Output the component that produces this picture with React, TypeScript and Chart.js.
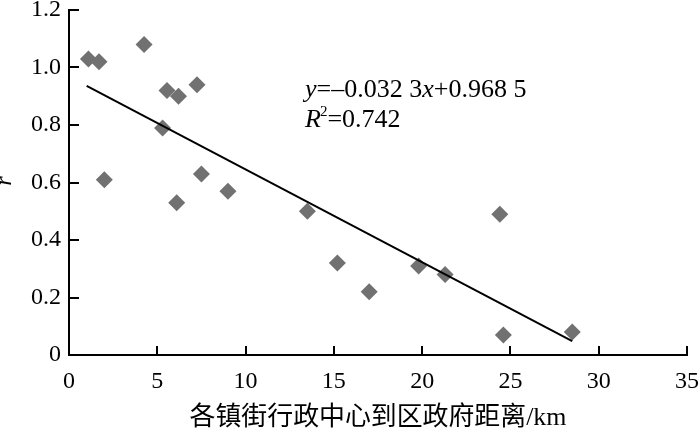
import React, { useEffect, useRef } from "react";
import { Chart, registerables } from "chart.js";

Chart.register(...registerables);

// Scatter data: distance (km) vs r
const distKm = [1.1, 1.7, 2.0, 4.25, 5.3, 5.55, 6.2, 6.1, 7.25, 7.5, 9.0, 13.5, 15.2, 17.0, 19.8, 21.3, 24.4, 24.6, 28.5];
const rValues = [1.03, 1.02, 0.61, 1.08, 0.79, 0.92, 0.9, 0.53, 0.94, 0.63, 0.57, 0.5, 0.32, 0.22, 0.31, 0.28, 0.49, 0.07, 0.08];

// Trend line end points (y = -0.0323x + 0.9685)
const trendX = [1.0, 28.5];
const trendY = [0.936, 0.048];

const xTicks = [0, 5, 10, 15, 20, 25, 30, 35];
const yTicks = [0, 0.2, 0.4, 0.6, 0.8, 1.0, 1.2];

const xTitle = "各镇街行政中心到区政府距离/km";
const yTitle = "r";
const eqParts: [string, boolean][] = [["y", true], ["=–0.032 3", false], ["x", true], ["+0.968 5", false]];
const r2Text = "=0.742";

const SERIF = "'Liberation Serif', 'Noto Sans CJK SC', serif";

const overlayPlugin = {
  id: "overlay",
  afterDraw(chart: any) {
    const ctx = chart.ctx as CanvasRenderingContext2D;
    const xs = chart.scales.x;
    const ys = chart.scales.y;
    const area = chart.chartArea;
    ctx.save();
    ctx.setLineDash([]);
    ctx.strokeStyle = "#000000";
    ctx.lineWidth = 2;
    ctx.globalAlpha = 1;
    // inward tick marks
    ctx.beginPath();
    for (const v of xTicks) {
      if (v === 0) continue;
      const px = Math.round(xs.getPixelForValue(v));
      ctx.moveTo(px, area.bottom);
      ctx.lineTo(px, area.bottom - 9);
    }
    for (const v of yTicks) {
      if (v === 0) continue;
      const py = Math.round(ys.getPixelForValue(v));
      ctx.moveTo(area.left, py);
      ctx.lineTo(area.left + 10, py);
    }
    ctx.stroke();

    ctx.fillStyle = "#000";
    // equation
    const eqSize = 26;
    let x = 305;
    const base1 = 97;
    ctx.textBaseline = "alphabetic";
    ctx.textAlign = "left";
    eqParts.forEach(([t, it]) => {
      ctx.font = `${it ? "italic " : ""}${eqSize}px ${SERIF}`;
      ctx.fillText(t, x, base1);
      x += ctx.measureText(t).width;
    });
    // R^2 line
    x = 305;
    const base2 = 127;
    ctx.font = `italic ${eqSize}px ${SERIF}`;
    ctx.fillText("R", x, base2);
    x += ctx.measureText("R").width;
    ctx.font = `15px ${SERIF}`;
    ctx.fillText("2", x - 1, base2 - 11);
    x += ctx.measureText("2").width - 1;
    ctx.font = `${eqSize}px ${SERIF}`;
    ctx.fillText(r2Text, x, base2);

    // x title, sized to span the reference width
    ctx.font = `22px ${SERIF}`;
    const w = ctx.measureText(xTitle).width;
    const fs = Math.min(28, (22 * 377) / w);
    ctx.font = `${fs.toFixed(1)}px ${SERIF}`;
    ctx.textAlign = "center";
    ctx.fillText(xTitle, (area.left + area.right) / 2, 425);

    // y title
    ctx.save();
    ctx.translate(11, 181);
    ctx.rotate(-Math.PI / 2);
    ctx.font = `italic 24px ${SERIF}`;
    ctx.textAlign = "center";
    ctx.fillText(yTitle, 0, 0);
    ctx.restore();

    ctx.restore();
  },
};

export default function App() {
  const ref = useRef<HTMLCanvasElement>(null);
  useEffect(() => {
    if (!ref.current) return;
    const chart = new Chart(ref.current, {
      type: "scatter",
      data: {
        datasets: [
          {
            type: "line",
            data: trendX.map((v, i) => ({ x: v, y: trendY[i] })),
            borderColor: "#000",
            borderWidth: 2,
            pointRadius: 0,
            fill: false,
          } as any,
          {
            data: distKm.map((v, i) => ({ x: v, y: rValues[i] })),
            pointStyle: "rectRot",
            pointRadius: 8.5,
            backgroundColor: "#717171",
            borderWidth: 0,
          },
        ],
      },
      options: {
        responsive: false,
        animation: false,
        layout: { padding: { top: 10, right: 13, left: 0, bottom: 0 } },
        plugins: { legend: { display: false }, tooltip: { enabled: false } },
        scales: {
          x: {
            type: "linear",
            min: 0,
            max: 35,
            afterBuildTicks: (s: any) => {
              s.ticks = xTicks.map((v) => ({ value: v }));
            },
            afterFit: (s: any) => {
              s.height = 73;
              s.paddingLeft = 0;
              s.paddingRight = 0;
            },
            grid: { display: true, drawOnChartArea: false, drawTicks: false },
            border: { display: true, color: "#000", width: 2 },
            ticks: {
              color: "#000",
              font: { family: SERIF, size: 24 },
              padding: 12,
              maxRotation: 0,
              callback: (v: any) => String(v),
            },
          },
          y: {
            type: "linear",
            min: 0,
            max: 1.2,
            afterBuildTicks: (s: any) => {
              s.ticks = yTicks.map((v) => ({ value: v }));
            },
            afterFit: (s: any) => {
              s.width = 69;
              s.paddingTop = 0;
              s.paddingBottom = 0;
            },
            grid: { display: true, drawOnChartArea: false, drawTicks: false },
            border: { display: true, color: "#000", width: 2 },
            ticks: {
              color: "#000",
              font: { family: SERIF, size: 24 },
              padding: 8,
              callback: (v: any) => (Number(v) === 0 ? "0" : Number(v).toFixed(1)),
            },
          },
        },
      },
      plugins: [overlayPlugin],
    });
    return () => chart.destroy();
  }, []);
  return (
    <div style={{ position: "fixed", left: 0, top: 0, width: 700, height: 428, background: "#fff" }}>
      <canvas ref={ref} width={700} height={428} />
    </div>
  );
}
